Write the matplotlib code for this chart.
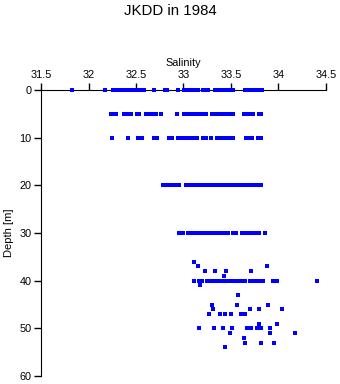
import matplotlib
matplotlib.use("Agg")
import matplotlib.pyplot as plt
import numpy as np

# salinity readings grouped by sampling depth (m)
sal_0 = [31.83, 32.17, 32.26, 32.28, 32.30, 32.33, 32.35, 32.37, 32.42, 32.46,
         32.49, 32.51, 32.53, 32.55, 32.58, 32.69, 32.81, 32.83, 32.94, 33.01,
         33.03, 33.05, 33.07, 33.10, 33.13, 33.15, 33.21, 33.24, 33.26, 33.33,
         33.35, 33.37, 33.39, 33.42, 33.45, 33.49, 33.52, 33.65, 33.68, 33.71,
         33.75, 33.78, 33.83]
sal_5 = [32.24, 32.27, 32.29, 32.37, 32.39, 32.43, 32.45, 32.51, 32.53, 32.61,
         32.63, 32.66, 32.69, 32.71, 32.76, 32.93, 33.01, 33.04, 33.07, 33.10,
         33.13, 33.15, 33.17, 33.21, 33.24, 33.30, 33.34, 33.37, 33.41, 33.44,
         33.47, 33.49, 33.52, 33.64, 33.67, 33.70, 33.73, 33.79, 33.82]
sal_10 = [32.25, 32.42, 32.52, 32.56, 32.69, 32.72, 32.85, 32.88, 32.94, 32.97,
          33.01, 33.05, 33.08, 33.11, 33.14, 33.21, 33.24, 33.29, 33.35, 33.38,
          33.42, 33.45, 33.48, 33.52, 33.66, 33.69, 33.72, 33.78, 33.82]
sal_20 = [32.78, 32.80, 32.82, 32.85, 32.88, 32.91, 32.95, 33.03, 33.05, 33.07,
          33.10, 33.12, 33.14, 33.16, 33.18, 33.20, 33.22, 33.25, 33.27, 33.30,
          33.32, 33.35, 33.37, 33.39, 33.41, 33.43, 33.45, 33.47, 33.49, 33.51,
          33.53, 33.55, 33.58, 33.62, 33.65, 33.68, 33.72, 33.76, 33.80, 33.82]
sal_30 = [32.95, 32.99, 33.05, 33.09, 33.13, 33.17, 33.20, 33.24, 33.28, 33.31,
          33.35, 33.38, 33.41, 33.44, 33.47, 33.52, 33.55, 33.62, 33.65, 33.68,
          33.72, 33.76, 33.80, 33.86]
sal_40 = [33.11, 33.16, 33.19, 33.25, 33.29, 33.31, 33.34, 33.37, 33.40, 33.43,
          33.46, 33.49, 33.52, 33.55, 33.58, 33.61, 33.63, 33.65, 33.70, 33.71,
          33.74, 33.77, 33.80, 33.84, 33.94, 33.98, 34.41]

# scattered deep readings: (depth, salinity)
deep_depth = [36, 37, 37, 38, 38, 38, 38, 39, 41, 43, 45, 45, 45, 46, 46, 46, 46,
              47, 47, 47, 47, 47, 47, 49, 49, 50, 50, 50, 50, 50, 50, 50, 50, 50,
              51, 51, 51, 52, 53, 53, 53, 54]
deep_sal = [33.11, 33.15, 33.88, 33.23, 33.33, 33.45, 33.71, 33.43, 33.17, 33.57,
            33.30, 33.56, 33.89, 33.31, 33.70, 33.79, 34.04, 33.27, 33.38, 33.44,
            33.50, 33.61, 33.65, 33.79, 33.98, 33.16, 33.32, 33.42, 33.51, 33.67,
            33.71, 33.77, 33.82, 33.91, 33.49, 33.91, 34.17, 33.64, 33.65, 33.82,
            33.95, 33.44]

x_ticks = [31.5, 32, 32.5, 33, 33.5, 34, 34.5]
x_labels = ['31.5', '32', '32.5', '33', '33.5', '34', '34.5']
y_ticks = [0, 10, 20, 30, 40, 50, 60]

plt.rcParams['font.family'] = ['Liberation Sans', 'DejaVu Sans']

fig = plt.figure(figsize=(3.4, 3.84), dpi=100)
ax = fig.add_axes([0.1206, 0.0208, 0.8382, 0.7448])

sal = []
dep = []
for d, s in [(0, sal_0), (5, sal_5), (10, sal_10), (20, sal_20), (30, sal_30), (40, sal_40)]:
    sal += s
    dep += [d] * len(s)
sal += deep_sal
dep += deep_depth

ax.plot(sal, dep, 's', color='#0000ff', markersize=2.3, markeredgewidth=0,
        antialiased=False, zorder=5, clip_on=False)

ax.set_xlim(31.5, 34.5)
ax.set_ylim(60, 0)
ax.set_xticks(x_ticks)
ax.set_xticklabels(x_labels)
ax.set_yticks(y_ticks)
ax.xaxis.tick_top()
ax.xaxis.set_label_position('top')
ax.tick_params(axis='both', direction='out', length=5, width=1, labelsize=7.8, pad=2)
ax.spines['bottom'].set_visible(False)
ax.spines['right'].set_visible(False)
ax.set_xlabel('Salinity', fontsize=7.8, labelpad=3)
ax.set_ylabel('Depth [m]', fontsize=8, labelpad=4)

fig.text(0.5, 0.972, 'JKDD in 1984', ha='center', va='center', fontsize=10.8)

fig.savefig('out.png', dpi=100)
